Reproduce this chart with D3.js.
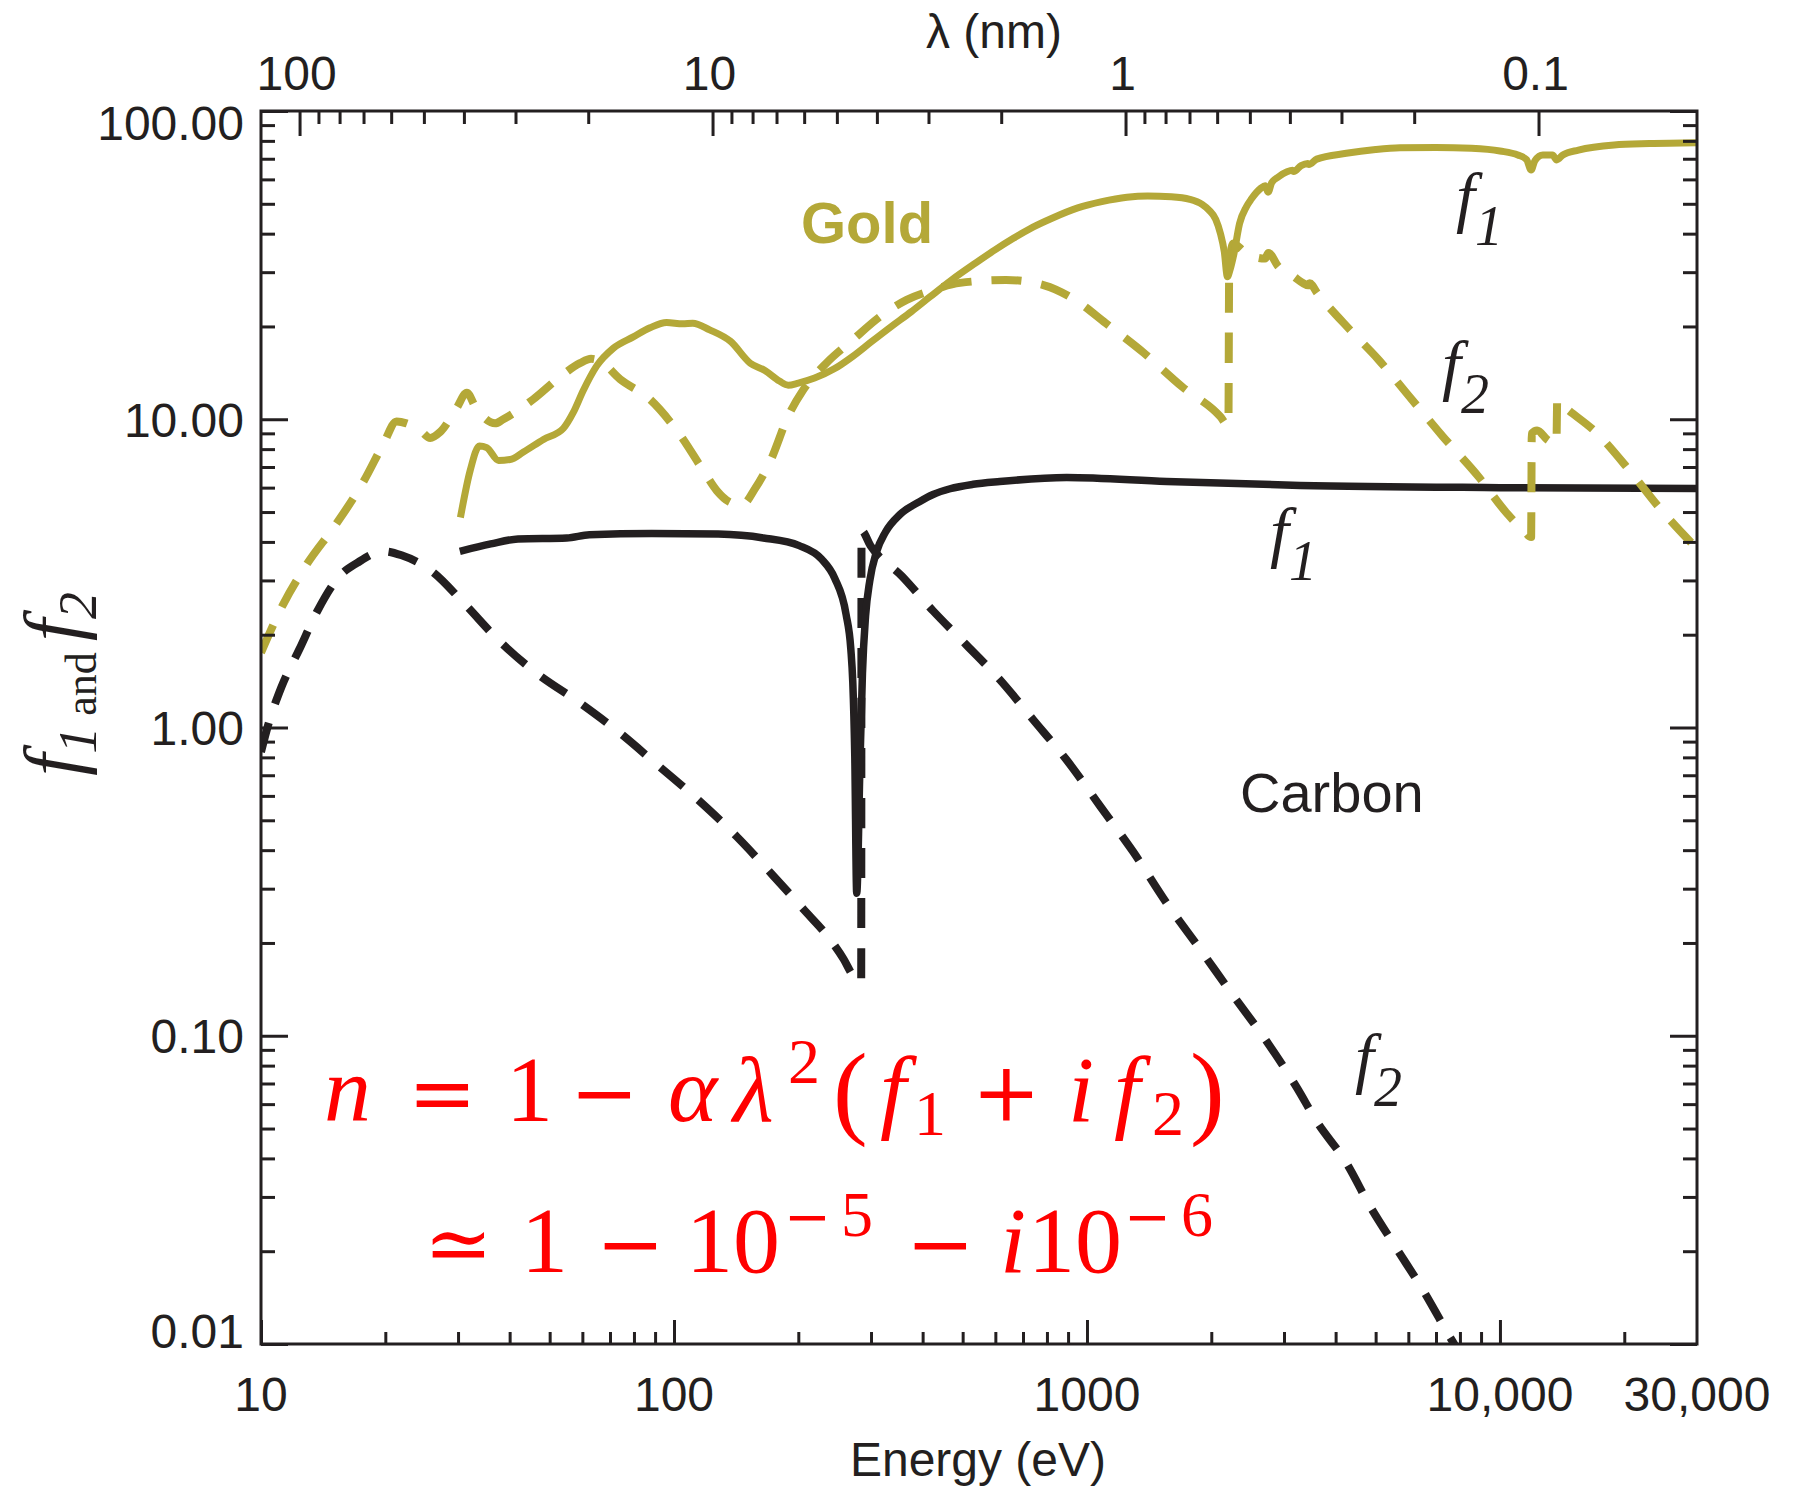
<!DOCTYPE html>
<html>
<head>
<meta charset="utf-8">
<script src="https://cdn.jsdelivr.net/npm/d3@7"></script>
<style>
  body { margin: 0; background: #fff; }
  svg { display: block; }
</style>
</head>
<body>
<div id="chart"></div>
<script>
///////////////////////////////////////////////////////////////////////////
//////////////////////////// data /////////////////////////////////////////
///////////////////////////////////////////////////////////////////////////

const energyTicks = [10, 100, 1000, 10000, 30000];
const energyTickLabels = ["10", "100", "1000", "10,000", "30,000"];
const lambdaTicks = [100, 10, 1, 0.1];
const lambdaTickLabels = ["100", "10", "1", "0.1"];
const fTicks = [100, 10, 1, 0.1, 0.01];
const fTickLabels = ["100.00", "10.00", "1.00", "0.10", "0.01"];

// gold, f1 (solid)
const goldF1E = [30.4, 32.1, 33.8, 35.2, 37.6, 40.1, 43.2, 48.3, 54, 57, 60.3, 65, 71.3, 79.7, 87.5, 96, 105, 111, 122, 137, 153, 166, 180, 189, 200, 219, 245, 271, 300, 336, 375, 416, 470, 537, 600, 665, 740, 823, 950, 1086, 1250, 1403, 1600, 1775, 1900, 1974, 2050, 2104, 2150, 2188, 2220, 2270, 2342, 2432, 2500, 2634, 2700, 2745, 2800, 2911, 3050, 3148, 3165, 3300, 3425, 3445, 3600, 4246, 5000, 5728, 7000, 8530, 10000, 11050, 11600, 11900, 12150, 12700, 13400, 13720, 14200, 15490, 18890, 23000, 30000];
const goldF1 = [4.8, 6.82, 8.19, 8.09, 7.35, 7.4, 7.83, 8.6, 9.35, 10.5, 12.4, 14.9, 17.0, 18.5, 19.8, 20.6, 20.4, 20.5, 19.5, 17.9, 15.2, 14.4, 13.3, 12.9, 13.1, 13.6, 14.6, 16.0, 17.8, 20.0, 22.3, 24.9, 28.3, 32.1, 35.5, 38.7, 42.0, 44.9, 48.5, 50.8, 52.5, 53.0, 52.7, 51.7, 49.8, 47.7, 44.5, 40.1, 35.0, 29.0, 30.5, 34.5, 43.2, 48.9, 51.8, 56.1, 57.2, 54.5, 58.5, 61.2, 63.5, 64.2, 63.6, 66.5, 67.6, 67.0, 69.8, 72.9, 75.0, 76.0, 76.2, 75.7, 74.2, 72.0, 69.5, 64.4, 69.0, 72.0, 72.0, 69.4, 72.0, 74.7, 77.6, 78.4, 78.9];

// gold, f2 (dashed)
const goldF2E = [10, 11.3, 12.9, 15.2, 17.7, 19.8, 21.3, 22.5, 24.3, 25.7, 27.1, 29.8, 31.5, 33, 34.5, 36.9, 38.6, 45.6, 52.9, 59.2, 63, 66.2, 74, 87.5, 103.4, 117.7, 126.9, 136, 146, 157.4, 171.6, 188.8, 205.6, 233.7, 271, 315, 366, 425, 493, 637, 788, 935, 1110, 1374, 1700, 2104, 2200, 2210, 2260, 2400, 2530, 2700, 2750, 2911, 3150, 3343, 3430, 3460, 3615, 4334, 5081, 5957, 7275, 8877, 10400, 11380, 11900, 11940, 12300, 13000, 13700, 13760, 14200, 17180, 20560, 24600, 30000];
const goldF2 = [1.75, 2.5, 3.38, 4.57, 6.27, 8.33, 9.84, 9.7, 9.2, 8.7, 9.07, 10.9, 12.2, 11.0, 10.2, 9.7, 10.0, 11.6, 13.7, 15.2, 15.7, 15.45, 13.5, 11.6, 8.9, 6.82, 5.87, 5.4, 5.27, 5.98, 7.38, 10.2, 12.45, 15.2, 18.1, 21.5, 24.4, 26.3, 27.7, 28.3, 27.2, 24.4, 20.5, 16.4, 12.75, 10.2, 9.5, 31.0, 37.2, 35.0, 33.7, 33.2, 34.6, 31.2, 29.2, 27.6, 27.2, 27.6, 25.6, 19.5, 15.6, 12.1, 8.79, 6.51, 4.95, 4.37, 4.15, 9.0, 9.2, 8.6, 8.3, 11.55, 11.1, 9.0, 6.84, 5.07, 3.8];

// carbon, f1 (solid)
const carbonF1E = [30.3, 36, 41.9, 55, 62.4, 88.3, 128, 164.6, 201, 227.6, 245, 261, 268, 271, 274, 277, 282, 286, 291, 298, 309, 325, 352, 393, 424, 466, 530, 615, 893, 1560, 3283, 10000, 30000];
const carbonF1 = [3.73, 3.94, 4.09, 4.12, 4.22, 4.26, 4.24, 4.12, 3.89, 3.52, 3.05, 2.33, 1.8, 1.4, 0.81, 0.29, 0.75, 1.5, 2.3, 3.0, 3.7, 4.3, 4.9, 5.4, 5.7, 5.95, 6.15, 6.28, 6.47, 6.28, 6.1, 6.0, 5.96];

// carbon, f2 (dashed)
const carbonF2E = [10, 10.4, 11.2, 12.4, 13.7, 15.5, 17.1, 19.8, 21.9, 26.1, 31, 37.9, 46.2, 59.3, 74.1, 90.6, 113.3, 141.8, 173, 206, 239, 257.6, 270, 280, 284, 284.5, 299, 356, 424, 511, 615, 741, 893, 1075, 1294, 1560, 1878, 2260, 2722, 3220, 3597, 4255, 4845, 5620, 6523, 7709, 8500];
const carbonF2 = [0.833, 1.016, 1.35, 1.8, 2.39, 3.1, 3.42, 3.73, 3.62, 3.19, 2.53, 1.9, 1.51, 1.2, 0.958, 0.762, 0.589, 0.443, 0.333, 0.257, 0.205, 0.177, 0.158, 0.149, 0.15, 4.35, 3.89, 3.1, 2.39, 1.85, 1.43, 1.06, 0.784, 0.557, 0.395, 0.269, 0.191, 0.135, 0.096, 0.068, 0.0528, 0.0385, 0.028, 0.0204, 0.0149, 0.0101, 0.0082];

///////////////////////////////////////////////////////////////////////////
//////////////////////////// drawing //////////////////////////////////////
///////////////////////////////////////////////////////////////////////////

const createChart = () => {
	//////////////////////////// sizes ////////////////////////////////////
	let dimensions = {
		width: 1794,
		height: 1486,
		margin: { top: 111, right: 97, bottom: 142, left: 261 }
	};
	dimensions.boundedWidth =
		dimensions.width - dimensions.margin.left - dimensions.margin.right;
	dimensions.boundedHeight =
		dimensions.height - dimensions.margin.top - dimensions.margin.bottom;

	const ink = "#231f20";
	const gold = "#b4a838";
	const sans = "'Liberation Sans', Arial, Helvetica, sans-serif";
	const serif = "'Liberation Serif', 'Times New Roman', serif";
	const mathOp = "'DejaVu Serif', 'DejaVu Sans', serif";
	const hc = 1239.84; // eV nm

	//////////////////////////// accessors ////////////////////////////////
	const eAccessor = (d) => d.e;
	const fAccessor = (d) => d.f;
	const toPoints = (es, fs) => d3.zip(es, fs).map(([e, f]) => ({ e, f }));

	//////////////////////////// svg //////////////////////////////////////
	const wrapper = d3
		.select("#chart")
		.append("svg")
		.attr("width", dimensions.width)
		.attr("height", dimensions.height);

	const bounds = wrapper
		.append("g")
		.attr(
			"transform",
			`translate(${dimensions.margin.left},${dimensions.margin.top})`
		);

	//////////////////////////// scales ///////////////////////////////////
	const xScale = d3
		.scaleLog()
		.domain([10, 30000])
		.range([0, dimensions.boundedWidth]);

	const yScale = d3
		.scaleLog()
		.domain([0.01, 100])
		.range([dimensions.boundedHeight, 0]);

	// wavelength axis on top: lambda = hc / E
	const lScale = d3
		.scaleLog()
		.domain([hc / 10, hc / 30000])
		.range([0, dimensions.boundedWidth]);

	//////////////////////////// curves ///////////////////////////////////
	bounds
		.append("clipPath")
		.attr("id", "plotClip")
		.append("rect")
		.attr("width", dimensions.boundedWidth)
		.attr("height", dimensions.boundedHeight);

	const lineGen = d3
		.line()
		.x((d) => xScale(eAccessor(d)))
		.y((d) => yScale(fAccessor(d)))
		.curve(d3.curveMonotoneX);

	const series = [
		{ pts: toPoints(carbonF2E, carbonF2), color: ink, dash: "30,20", w: 8 },
		{ pts: toPoints(carbonF1E, carbonF1), color: ink, dash: null, w: 7.5 },
		{ pts: toPoints(goldF2E, goldF2), color: gold, dash: "30,20", w: 8 },
		{ pts: toPoints(goldF1E, goldF1), color: gold, dash: null, w: 7 }
	];

	const curves = bounds.append("g").attr("clip-path", "url(#plotClip)");
	curves
		.selectAll("path")
		.data(series)
		.enter()
		.append("path")
		.attr("d", (d) => lineGen(d.pts))
		.attr("fill", "none")
		.attr("stroke", (d) => d.color)
		.attr("stroke-width", (d) => d.w)
		.attr("stroke-dasharray", (d) => d.dash)
		.attr("stroke-linejoin", "round");

	//////////////////////////// axes /////////////////////////////////////
	const isMajor = (v) => Math.abs(Math.log10(v) - Math.round(Math.log10(v))) < 1e-6;

	const xMinor = xScale.ticks().filter((v) => !isMajor(v) && v <= 20000);
	const yMinor = yScale.ticks().filter((v) => !isMajor(v));
	const lMinor = lScale
		.ticks()
		.filter((v) => !isMajor(v) && v >= 0.2 - 1e-9 && v <= 90 + 1e-9);
	const xMajor = energyTicks.filter((v) => v < 30000);

	const axisGroup = bounds.append("g");
	const drawAxis = (axis, transform) => {
		const g = axisGroup.append("g").attr("transform", transform).call(axis);
		g.select(".domain").remove();
		g.selectAll("line").attr("stroke", ink).attr("stroke-width", 3);
		g.selectAll("text").remove();
	};
	const bh = dimensions.boundedHeight;
	const bw = dimensions.boundedWidth;

	// bottom
	drawAxis(d3.axisBottom(xScale).tickValues(xMajor).tickSize(-24), `translate(0,${bh})`);
	drawAxis(d3.axisBottom(xScale).tickValues(xMinor).tickSize(-12), `translate(0,${bh})`);
	// top (wavelength)
	drawAxis(d3.axisTop(lScale).tickValues(lambdaTicks).tickSize(-25), "translate(0,0)");
	drawAxis(d3.axisTop(lScale).tickValues(lMinor).tickSize(-13), "translate(0,0)");
	// left
	drawAxis(d3.axisLeft(yScale).tickValues(fTicks).tickSize(-27), "translate(0,0)");
	drawAxis(d3.axisLeft(yScale).tickValues(yMinor).tickSize(-14), "translate(0,0)");
	// right
	drawAxis(d3.axisRight(yScale).tickValues(fTicks).tickSize(-27), `translate(${bw},0)`);
	drawAxis(d3.axisRight(yScale).tickValues(yMinor).tickSize(-14), `translate(${bw},0)`);

	// frame
	axisGroup
		.append("rect")
		.attr("width", bw)
		.attr("height", bh)
		.attr("fill", "none")
		.attr("stroke", ink)
		.attr("stroke-width", 3);

	//////////////////////////// tick labels //////////////////////////////
	const labels = bounds
		.append("g")
		.attr("font-family", sans)
		.attr("font-size", 48)
		.attr("fill", ink);

	labels
		.selectAll(".ylab")
		.data(fTicks)
		.enter()
		.append("text")
		.attr("x", -17)
		.attr("y", (d) => Math.min(Math.max(yScale(d), 12), bh - 13))
		.attr("dy", "0.36em")
		.attr("text-anchor", "end")
		.text((d, i) => fTickLabels[i]);

	labels
		.selectAll(".xlab")
		.data(energyTicks)
		.enter()
		.append("text")
		.attr("x", (d) => xScale(d))
		.attr("y", bh + 67)
		.attr("text-anchor", "middle")
		.text((d, i) => energyTickLabels[i]);

	labels
		.selectAll(".llab")
		.data(lambdaTicks)
		.enter()
		.append("text")
		.attr("x", (d) => lScale(d) - 3)
		.attr("y", -21)
		.attr("text-anchor", "middle")
		.text((d, i) => lambdaTickLabels[i]);

	//////////////////////////// axis titles //////////////////////////////
	wrapper
		.append("text")
		.attr("x", 994)
		.attr("y", 48)
		.attr("text-anchor", "middle")
		.attr("font-family", sans)
		.attr("font-size", 48)
		.attr("fill", ink)
		.text("λ (nm)");

	wrapper
		.append("text")
		.attr("x", 978)
		.attr("y", 1476)
		.attr("text-anchor", "middle")
		.attr("font-family", sans)
		.attr("font-size", 48)
		.attr("fill", ink)
		.text("Energy (eV)");

	const yTitle = wrapper
		.append("text")
		.attr("transform", "translate(80,684) rotate(-90)")
		.attr("text-anchor", "middle")
		.attr("font-family", serif)
		.attr("fill", ink);
	yTitle.append("tspan").attr("font-size", 80).attr("font-style", "italic").text("f");
	yTitle.append("tspan").attr("font-size", 54).attr("font-style", "italic").attr("dy", 16).text("1");
	yTitle.append("tspan").attr("font-size", 44).text(" and ");
	yTitle.append("tspan").attr("font-size", 80).attr("font-style", "italic").attr("dy", -16).text("f");
	yTitle.append("tspan").attr("font-size", 54).attr("font-style", "italic").attr("dy", 16).text("2");

	//////////////////////////// annotations //////////////////////////////
	const fLabel = (x, y, sub) => {
		const t = wrapper
			.append("text")
			.attr("x", x)
			.attr("y", y)
			.attr("font-family", serif)
			.attr("font-style", "italic")
			.attr("fill", ink);
		t.append("tspan").attr("font-size", 68).text("f");
		t.append("tspan").attr("font-size", 56).attr("dy", 25).text(sub);
	};
	fLabel(1456, 220, "1");
	fLabel(1442, 388, "2");
	fLabel(1270, 555, "1");
	fLabel(1355, 1081, "2");

	wrapper
		.append("text")
		.attr("x", 801)
		.attr("y", 243)
		.attr("font-family", sans)
		.attr("font-weight", "bold")
		.attr("font-size", 58)
		.attr("fill", gold)
		.text("Gold");

	wrapper
		.append("text")
		.attr("x", 1240)
		.attr("y", 812)
		.attr("font-family", sans)
		.attr("font-size", 56)
		.attr("fill", ink)
		.text("Carbon");

	//////////////////////////// equation /////////////////////////////////
	const red = "#ff0000";
	const eq = wrapper.append("g").attr("fill", red);
	const piece = (x, y, s, size, family, italic) =>
		eq
			.append("text")
			.attr("x", x)
			.attr("y", y)
			.attr("font-size", size)
			.attr("font-family", family)
			.attr("font-style", italic ? "italic" : "normal")
			.text(s);

	// line 1: n = 1 - alpha lambda^2 (f1 + i f2)
	const b1 = 1121;
	piece(324, b1, "n", 94, serif, true);
	piece(408, b1, "=", 82, mathOp, false);
	piece(506, b1, "1", 94, serif, false);
	piece(570, b1, "−", 82, mathOp, false);
	piece(668, b1, "α", 94, serif, true);
	piece(733, b1, "λ", 94, serif, true);
	piece(788, 1083, "2", 64, serif, false);
	piece(833, b1 + 4, "(", 104, serif, false);
	piece(880, b1, "f", 94, serif, true);
	piece(914, 1135, "1", 64, serif, false);
	piece(972, b1, "+", 82, mathOp, false);
	piece(1068, b1, "i", 94, serif, true);
	piece(1114, b1, "f", 94, serif, true);
	piece(1152, 1135, "2", 64, serif, false);
	piece(1190, b1 + 4, ")", 104, serif, false);

	// line 2: ~= 1 - 10^-5 - i 10^-6
	const b2 = 1272;
	piece(424, b2, "≃", 82, mathOp, false);
	piece(521, b2, "1", 94, serif, false);
	piece(596, b2, "−", 82, mathOp, false);
	piece(686, b2, "10", 94, serif, false);
	piece(784, 1236, "−", 56, mathOp, false);
	piece(841, 1236, "5", 64, serif, false);
	piece(906, b2, "−", 82, mathOp, false);
	piece(1000, b2, "i", 94, serif, true);
	piece(1028, b2, "10", 94, serif, false);
	piece(1124, 1236, "−", 56, mathOp, false);
	piece(1181, 1236, "6", 64, serif, false);
};

createChart();
</script>
</body>
</html>
